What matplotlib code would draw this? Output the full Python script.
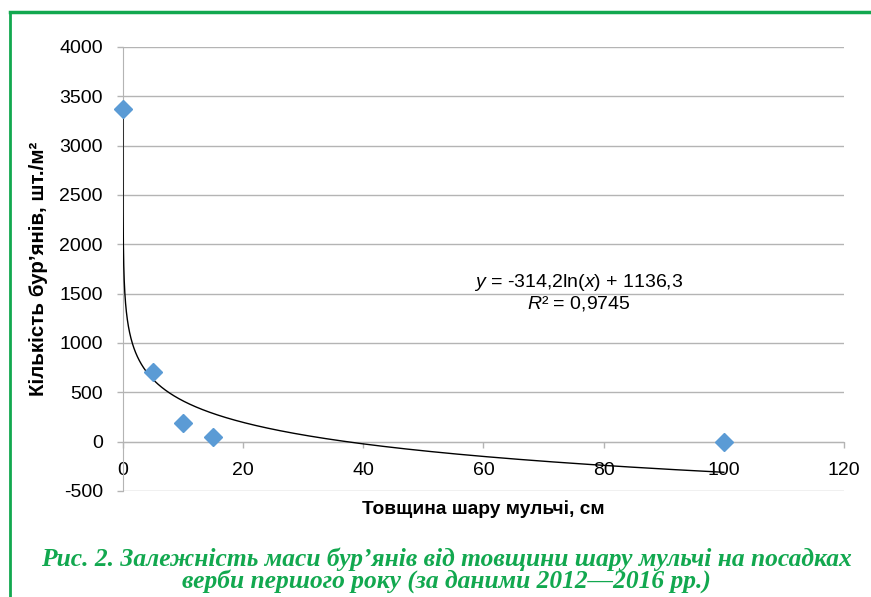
import matplotlib
matplotlib.use("Agg")
import matplotlib.pyplot as plt
import numpy as np

# data
mulch_cm = [0.001, 5, 10, 15, 100]
weeds = [3370, 706, 193, 47, 0]
coef_a = -314.2   # trend: y = a*ln(x) + b
coef_b = 1136.3
x_ticks = [0, 20, 40, 60, 80, 100, 120]
y_ticks = [-500, 0, 500, 1000, 1500, 2000, 2500, 3000, 3500, 4000]

green = "#12a84f"
grid = "#b4b4b4"
marker_col = "#5b9bd5"

plt.rcParams.update({
    "font.family": ["Liberation Sans", "DejaVu Sans"],
    "mathtext.fontset": "custom",
    "mathtext.it": "Liberation Sans:italic",
    "mathtext.rm": "Liberation Sans",
    "axes.unicode_minus": False,
})

fig = plt.figure(figsize=(8.71, 5.97), dpi=100)
ax = fig.add_axes([0.1412, 0.1776, 0.969 - 0.1412, 0.9213 - 0.1776])

ax.set_xlim(0, 120)
ax.set_ylim(-500, 4000)
ax.set_xticks(x_ticks)
ax.set_yticks(y_ticks)

ax.grid(True, axis="y", color=grid, linewidth=1)
ax.set_axisbelow(True)
for s in ("top", "right"):
    ax.spines[s].set_visible(False)
ax.spines["bottom"].set_position(("data", 0))
ax.spines["bottom"].set_color(grid)
ax.spines["left"].set_color(grid)
ax.tick_params(axis="both", colors=grid, labelcolor="black", labelsize=14,
               length=4.5, width=1, pad=10)

# trendline from the fitted coefficients
xs = np.linspace(min(mulch_cm), max(mulch_cm), 4000)
xs = np.concatenate([np.geomspace(min(mulch_cm), 1, 400), xs])
xs.sort()
ax.plot(xs, coef_a * np.log(xs) + coef_b, color="black", linewidth=1, zorder=3)

ax.plot(mulch_cm, weeds, linestyle="none", marker="D", markersize=9.5,
        color=marker_col, zorder=4, clip_on=False)

ax.text(75.8, 1510, "$y$ = -314,2ln($x$) + 1136,3\n$R$² = 0,9745",
        ha="center", va="center", fontsize=14, linespacing=1.1)

ax.set_xlabel("Товщина шару мульчі, см", fontsize=13.8, fontweight="bold")
ax.xaxis.set_label_coords(0.5, -0.022)
ax.set_ylabel("Кількість бур’янів, шт./м²", fontsize=14.8, fontweight="bold")
ax.yaxis.set_label_coords(-0.104, 0.5)

# green frame
fig.add_artist(plt.Line2D([9.5 / 871, 9.5 / 871], [0, 1 - 11.5 / 597],
                          color=green, linewidth=2))
fig.add_artist(plt.Line2D([9.5 / 871, 1], [1 - 11.5 / 597, 1 - 11.5 / 597],
                          color=green, linewidth=2.5))

fig.text(0.513, 0.045,
         "Рис. 2. Залежність маси бур’янів від товщини шару мульчі на посадках\n"
         "верби першого року (за даними 2012—2016 рр.)",
         ha="center", va="center", color=green, fontsize=18.4,
         family=["Liberation Serif", "DejaVu Serif"], fontweight="bold",
         style="italic", linespacing=0.92)

fig.savefig("out.png", dpi=100)
